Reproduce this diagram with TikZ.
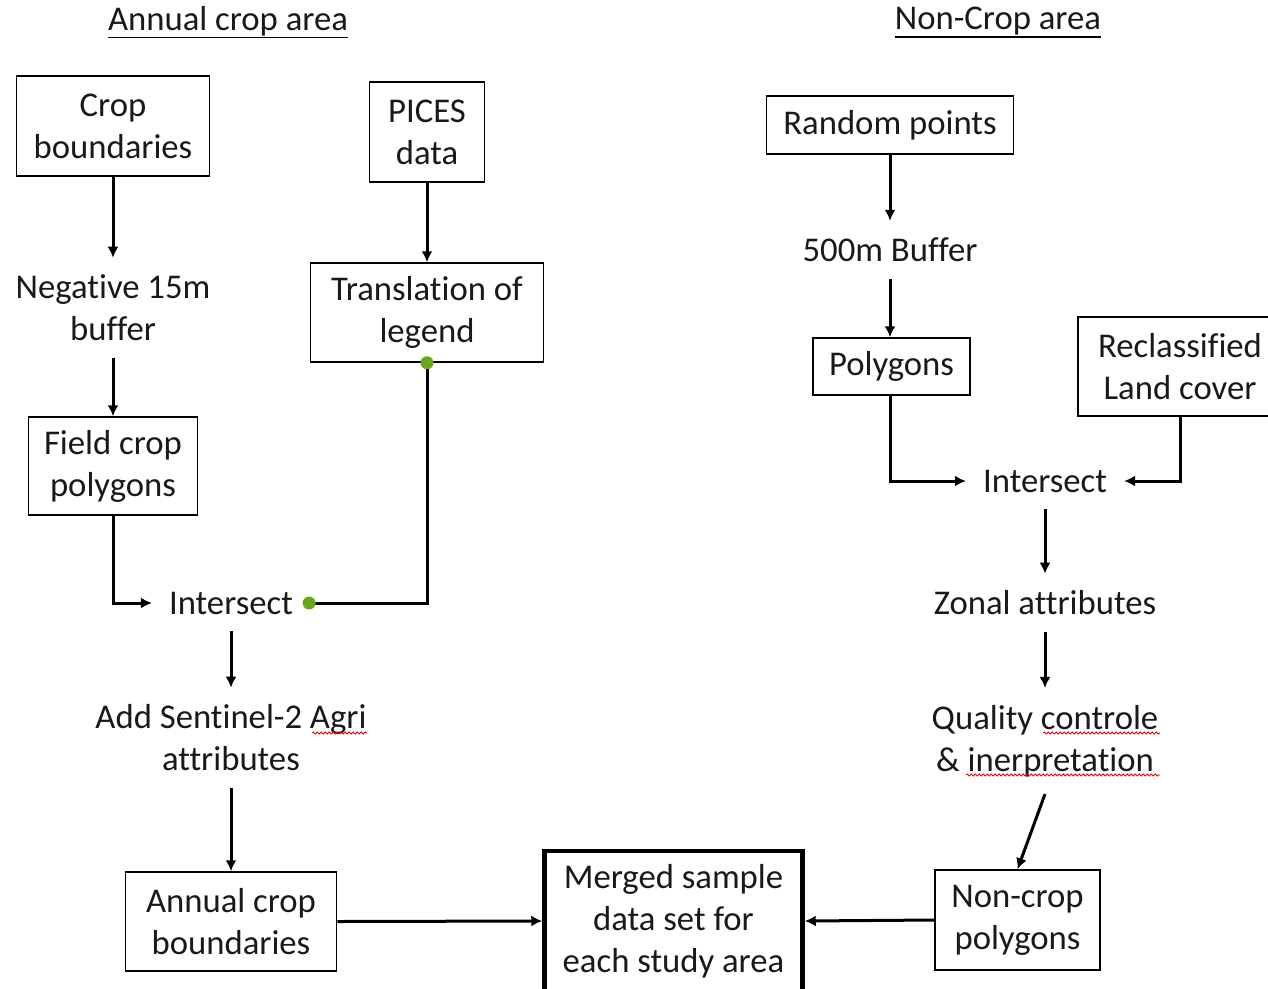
\documentclass[tikz,border=0pt]{standalone}
\usepackage{fontspec}
\setmainfont{Carlito}[Ligatures=NoCommon]
\usetikzlibrary{arrows.meta,calc,decorations.pathmorphing}
\definecolor{gdot}{RGB}{100,170,30}
\definecolor{txt}{RGB}{25,25,25}
\begin{document}
\begin{tikzpicture}[x=1pt,y=-1pt,
  every node/.style={font=\fontsize{34.7}{42}\selectfont, text=txt},
  box/.style={draw, line width=1.5pt, align=center, inner sep=0pt},
  lbl/.style={align=center, inner sep=17pt},
  conn/.style={line width=3pt, -{Latex[length=11pt,width=11pt]}},
  plain/.style={line width=3pt},
  squig/.style={red!90!black, line width=0.8pt, decorate,
     decoration={snake, amplitude=1.1pt, segment length=4pt}},
  title/.style={inner sep=0pt}]
\useasboundingbox (0,0) rectangle (1268,988);
% titles
\node[title] (t1) at (228,21) {Annual crop area};
\draw[line width=1.8pt] ([yshift=-1.5pt]t1.south west) -- ([yshift=-1.5pt]t1.south east);
\node[title] (t2) at (998,21) {Non-Crop area};
\draw[line width=1.8pt] ([yshift=-1.5pt]t2.south west) -- ([yshift=-1.5pt]t2.south east);
% left column
\node[box, minimum width=193, minimum height=100] (crop) at (113,126) {Crop\\boundaries};
\node[box, minimum width=115, minimum height=100] (pices) at (427,132) {PICES\\data};
\node[lbl] (neg) at (113,308) {Negative 15m\\buffer};
\node[box, minimum width=233, minimum height=99] (trans) at (427,312.5) {Translation of\\legend};
\node[box, minimum width=169, minimum height=98] (field) at (113,466) {Field crop\\polygons};
\node[lbl] (isl) at (231,603) {Intersect};
\node[lbl] (sent) at (231,738) {Add Sentinel-2 Agri\\attributes};
\node[box, minimum width=211, minimum height=99] (annual) at (231,921.5) {Annual crop\\boundaries};
\node[box, line width=4.5pt, minimum width=258, minimum height=140] (merged) at (673.5,921) {Merged sample\\data set for\\each study area};
% right column
\node[box, minimum width=247, minimum height=58] (random) at (890,125) {Random points};
\node[lbl] (buf) at (890,250) {500m Buffer};
\node[box, minimum width=157, minimum height=57] (poly) at (891.5,366.5) {Polygons};
\node[box, minimum width=204, minimum height=99] (recl) at (1180,366.5) {Reclassified\\Land cover};
\node[lbl] (isr) at (1045,481) {Intersect};
\node[lbl] (zonal) at (1045,603) {Zonal attributes};
\node[lbl] (qual) at (1045,741) {Quality controle\\\& inerpretation};
\node[box, minimum width=165, minimum height=100] (noncrop) at (1017.5,920) {Non-crop\\polygons};
% connectors left
\draw[conn] (crop.south) -- (neg.north);
\draw[conn] (neg.south) -- (field.north);
\draw[conn] (pices.south) -- (trans.north);
\draw[conn] (field.south) |- (isl.west);
\coordinate (g1) at (trans.south);
\coordinate (g2) at ([xshift=-1pt]isl.east);
\draw[plain] (g1) |- (g2);
\fill[gdot] (g1) circle (6.5pt);
\fill[gdot] (g2) circle (6.5pt);
\draw[conn] (isl.south) -- (sent.north);
\draw[conn] (sent.south) -- (annual.north);
\draw[conn] (annual.east) -- (merged.west);
% connectors right
\draw[conn] (random.south) -- (buf.north);
\draw[conn] (buf.south) -- (buf.south |- poly.north);
\draw[conn] (poly.south -| buf.south) |- (isr.west);
\draw[conn] (recl.south) |- (isr.east);
\draw[conn] (isr.south) -- (zonal.north);
\draw[conn] (zonal.south) -- (qual.north);
\draw[conn] (qual.south) -- (noncrop.north);
\draw[conn] (noncrop.west) -- (merged.east);
% spell-check squiggles
\draw[squig] (312,733) -- (367,733);
\draw[squig] (1043,733) -- (1160,733);
\draw[squig] (966,775) -- (1160,775);
\end{tikzpicture}
\end{document}
